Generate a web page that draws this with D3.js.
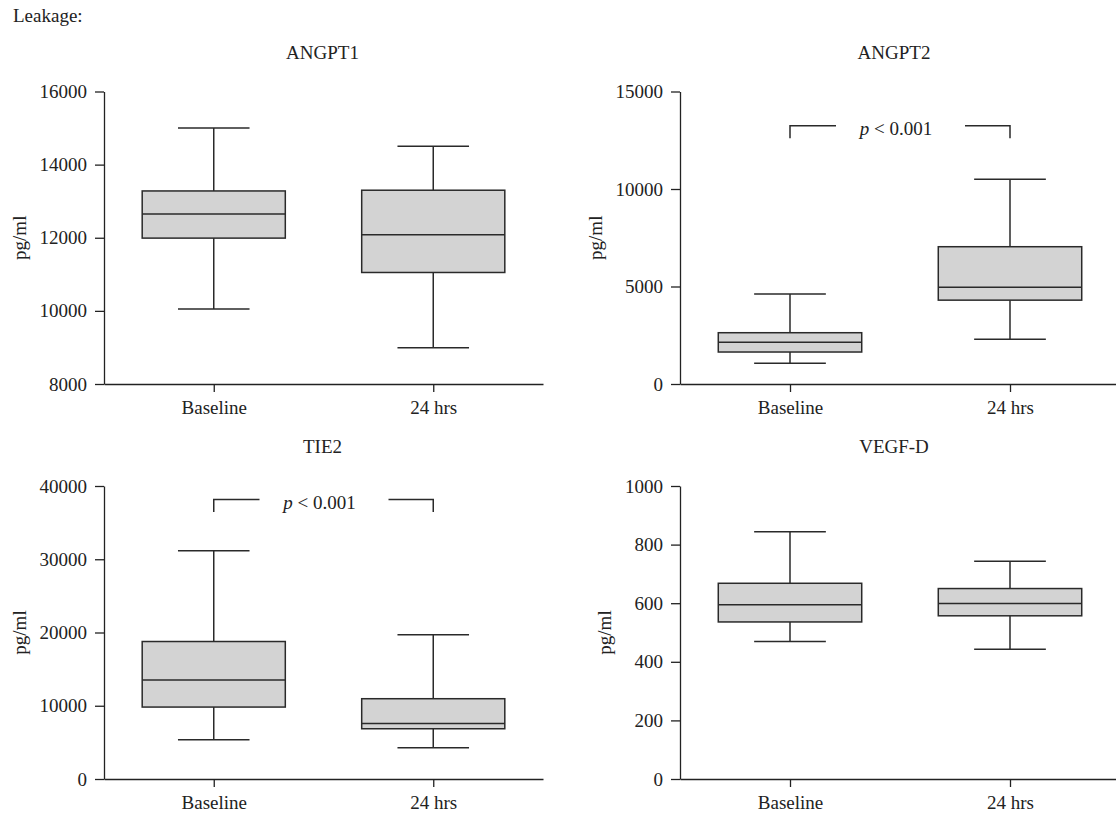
<!DOCTYPE html>
<html>
<head>
<meta charset="utf-8">
<script src="https://cdn.jsdelivr.net/npm/d3@7"></script>
<style>
  body { margin: 0; background: #fff; }
  svg { display: block; font-family: "Liberation Serif", "DejaVu Serif", serif; }
  .axis path, .axis line { stroke: #222; stroke-width: 1.3; }
  .axis text { font-family: "Liberation Serif", "DejaVu Serif", serif; font-size: 19px; fill: #222; }
</style>
</head>
<body>
<svg id="chart" width="1116" height="820"></svg>
<script>
// data (pg/ml)
const groups = ["Baseline", "24 hrs"];
const titles = ["ANGPT1", "ANGPT2", "TIE2", "VEGF-D"];

const whiskerLow  = [[10050, 8990], [1060, 2300], [5360, 4270], [469, 443]];
const quart1      = [[11990, 11050], [1640, 4300], [9820, 6860], [536, 557]];
const medians     = [[12650, 12080], [2140, 4960], [13500, 7590], [595, 599]];
const quart3      = [[13280, 13300], [2630, 7040], [18770, 10960], [668, 650]];
const whiskerHigh = [[15000, 14500], [4610, 10500], [31150, 19690], [844, 743]];

const yDomains = [[8000, 16000], [0, 15000], [0, 40000], [0, 1000]];
const yTicks = [
  [8000, 10000, 12000, 14000, 16000],
  [0, 5000, 10000, 15000],
  [0, 10000, 20000, 30000, 40000],
  [0, 200, 400, 600, 800, 1000]
];
// significance brackets: [bar level, drop end] in data units, null = none
const brackets = [null, [13250, 12600], [38150, 36450], null];
const pText = "< 0.001";

const svg = d3.select("#chart");

svg.append("text")
  .attr("x", 13).attr("y", 22)
  .attr("font-size", 19).attr("fill", "#222")
  .text("Leakage:");

// panel frames: x range of the plot, y range of the plot
const frames = [
  {x0: 104, x1: 543, y0: 384, y1: 91.5},
  {x0: 680, x1: 1120, y0: 384, y1: 91.5},
  {x0: 104, x1: 543, y0: 779, y1: 486},
  {x0: 680, x1: 1120, y0: 779, y1: 486}
];

titles.forEach((title, i) => {
  const f = frames[i];
  const g = svg.append("g");

  const x = d3.scalePoint().domain(groups).range([f.x0, f.x1]).padding(0.5);
  const y = d3.scaleLinear().domain(yDomains[i]).range([f.y0, f.y1]);
  const boxW = (f.x1 - f.x0) * 0.326;
  const capW = boxW / 2;

  // title
  g.append("text")
    .attr("x", (f.x0 + Math.min(f.x1, 1110)) / 2 - 1)
    .attr("y", f.y1 - 33)
    .attr("text-anchor", "middle")
    .attr("font-size", 19).attr("fill", "#222")
    .text(title);

  // axes
  const yAxis = g.append("g")
    .attr("class", "axis")
    .attr("transform", `translate(${f.x0},0)`)
    .call(d3.axisLeft(y).tickValues(yTicks[i]).tickFormat(d3.format("d"))
      .tickSize(9).tickSizeOuter(0).tickPadding(8));

  g.append("g")
    .attr("class", "axis")
    .attr("transform", `translate(0,${f.y0})`)
    .call(d3.axisBottom(x).tickSize(8).tickSizeOuter(0).tickPadding(9));

  // y label, placed left of the widest tick label
  let minX = 0;
  yAxis.selectAll(".tick text").each(function() {
    minX = Math.min(minX, this.getBBox().x);
  });
  const labelX = f.x0 + minX - 14;
  g.append("text")
    .attr("transform", `translate(${labelX},${(f.y0 + f.y1) / 2}) rotate(-90)`)
    .attr("text-anchor", "middle")
    .attr("font-size", 19).attr("fill", "#222")
    .text("pg/ml");

  // boxes
  groups.forEach((grp, j) => {
    const cx = x(grp);
    const bg = g.append("g").attr("stroke", "#2a2a2a").attr("stroke-width", 1.5);
    // whisker stems
    bg.append("line")
      .attr("x1", cx).attr("x2", cx)
      .attr("y1", y(whiskerHigh[i][j])).attr("y2", y(quart3[i][j]));
    bg.append("line")
      .attr("x1", cx).attr("x2", cx)
      .attr("y1", y(quart1[i][j])).attr("y2", y(whiskerLow[i][j]));
    // caps
    [whiskerHigh[i][j], whiskerLow[i][j]].forEach(v => {
      bg.append("line")
        .attr("x1", cx - capW / 2).attr("x2", cx + capW / 2)
        .attr("y1", y(v)).attr("y2", y(v));
    });
    // box
    bg.append("rect")
      .attr("x", cx - boxW / 2).attr("width", boxW)
      .attr("y", y(quart3[i][j]))
      .attr("height", y(quart1[i][j]) - y(quart3[i][j]))
      .attr("fill", "#d3d3d3");
    bg.append("line")
      .attr("x1", cx - boxW / 2).attr("x2", cx + boxW / 2)
      .attr("y1", y(medians[i][j])).attr("y2", y(medians[i][j]));
  });

  // significance bracket
  if (brackets[i]) {
    const [top, drop] = brackets[i];
    const xa = x(groups[0]), xb = x(groups[1]);
    const mid = (xa + xb) / 2;
    const bk = g.append("g").attr("fill", "none").attr("stroke", "#2a2a2a").attr("stroke-width", 1.5);
    bk.append("path")
      .attr("d", `M${xa},${y(drop)}V${y(top)}H${mid - 64}`);
    bk.append("path")
      .attr("d", `M${mid + 65},${y(top)}H${xb}V${y(drop)}`);
    const t = g.append("text")
      .attr("x", mid - 4).attr("y", y(top) + 9)
      .attr("text-anchor", "middle")
      .attr("font-size", 19).attr("fill", "#222");
    t.append("tspan").attr("font-style", "italic").text("p");
    t.append("tspan").text(" " + pText);
  }
});
</script>
</body>
</html>
